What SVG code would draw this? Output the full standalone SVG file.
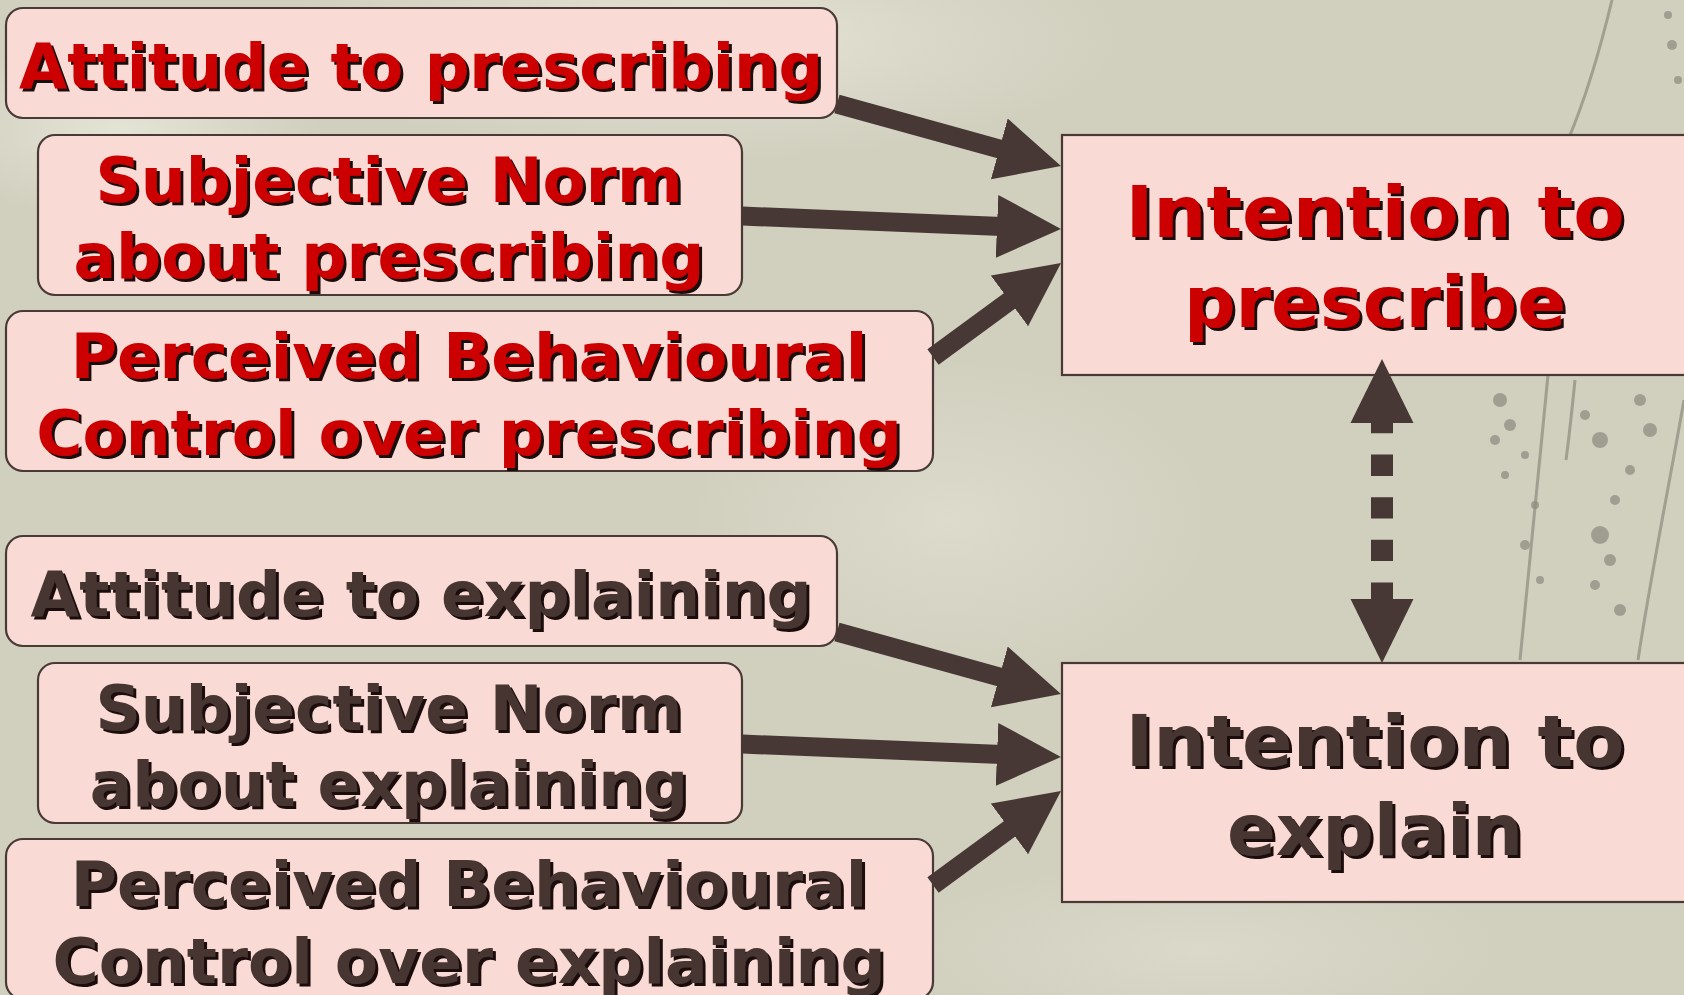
<svg xmlns="http://www.w3.org/2000/svg" width="1684" height="995" viewBox="0 0 1684 995">
<style>
.box{fill:#f9dad4;stroke:#4a3a36;stroke-width:2.2}
.t{font-family:"DejaVu Sans",Verdana,sans-serif;font-weight:bold;text-anchor:middle;filter:url(#sh)}
.s{font-size:63px}
.b{font-size:72px}
.red{fill:#cc0000}
.brn{fill:#463532}
.arr{fill:none;stroke:#473835;stroke-width:19;marker-end:url(#head)}
.dash{fill:none;stroke:#473835;stroke-width:22;stroke-dasharray:21.3 21.3;marker-start:url(#head);marker-end:url(#head)}
.vine{fill:none;stroke:#8c8a7c;stroke-width:3;opacity:.7}
.dot{fill:#8f8d80;opacity:.75}
</style>
<defs>
<filter id="sh" x="-5%" y="-10%" width="110%" height="130%">
<feDropShadow dx="3" dy="3" stdDeviation="0.3" flood-color="#1a1010" flood-opacity="1"/>
</filter>
<marker id="head" viewBox="0 -32 64 64" markerWidth="64" markerHeight="64" refX="11" refY="0" orient="auto-start-reverse" markerUnits="userSpaceOnUse">
<path d="M0,-31.5 L64,0 L0,31.5 Z" fill="#473835"/>
</marker>
<radialGradient id="lt1" cx="0.5" cy="0.5" r="0.5">
<stop offset="0" stop-color="#e6e6d8" stop-opacity="0.9"/>
<stop offset="1" stop-color="#e6e6d8" stop-opacity="0"/>
</radialGradient>
</defs>
<g id="background">
<rect x="0" y="0" width="1684" height="995" fill="#d1cfbe"/>
<ellipse cx="700" cy="40" rx="420" ry="120" fill="url(#lt1)"/>
<ellipse cx="120" cy="130" rx="200" ry="90" fill="url(#lt1)"/>
<ellipse cx="950" cy="520" rx="260" ry="160" fill="url(#lt1)" opacity="0.6"/>
<ellipse cx="1200" cy="950" rx="300" ry="90" fill="url(#lt1)" opacity="0.5"/>
<path class="vine" d="M1612,0 C1600,50 1585,100 1568,140"/>
<path class="vine" d="M1548,375 C1540,460 1530,560 1520,660"/>
<path class="vine" d="M1684,400 C1670,480 1650,580 1638,660"/>
<path class="vine" d="M1575,380 C1572,410 1570,430 1566,460"/>
<circle class="dot" cx="1500" cy="400" r="7"/><circle class="dot" cx="1510" cy="425" r="6"/>
<circle class="dot" cx="1495" cy="440" r="5"/><circle class="dot" cx="1525" cy="455" r="4"/>
<circle class="dot" cx="1505" cy="475" r="4"/><circle class="dot" cx="1535" cy="505" r="4"/>
<circle class="dot" cx="1525" cy="545" r="5"/><circle class="dot" cx="1540" cy="580" r="4"/>
<circle class="dot" cx="1585" cy="415" r="5"/><circle class="dot" cx="1600" cy="440" r="8"/>
<circle class="dot" cx="1640" cy="400" r="6"/><circle class="dot" cx="1650" cy="430" r="7"/>
<circle class="dot" cx="1630" cy="470" r="5"/><circle class="dot" cx="1615" cy="500" r="5"/>
<circle class="dot" cx="1600" cy="535" r="9"/><circle class="dot" cx="1610" cy="560" r="6"/>
<circle class="dot" cx="1595" cy="585" r="5"/><circle class="dot" cx="1620" cy="610" r="6"/>
<circle class="dot" cx="1668" cy="15" r="4"/><circle class="dot" cx="1672" cy="45" r="5"/>
<circle class="dot" cx="1678" cy="80" r="4"/>
</g>
<g id="node-attitude-prescribing">
<rect class="box" x="6" y="8" width="831" height="110" rx="17"/>
<text class="t s red" x="421" y="88" textLength="804" lengthAdjust="spacingAndGlyphs">Attitude to prescribing</text>
</g>
<g id="node-norm-prescribing">
<rect class="box" x="38" y="135" width="704" height="160" rx="17"/>
<text class="t s red" x="389" y="202">Subjective Norm</text>
<text class="t s red" x="389" y="278">about prescribing</text>
</g>
<g id="node-pbc-prescribing">
<rect class="box" x="6" y="311" width="927" height="160" rx="17"/>
<text class="t s red" x="469" y="378">Perceived Behavioural</text>
<text class="t s red" x="469" y="455">Control over prescribing</text>
</g>
<g id="node-intention-prescribe">
<rect class="box" x="1062" y="135" width="640" height="240"/>
<text class="t b red" x="1375" y="237" textLength="499" lengthAdjust="spacingAndGlyphs">Intention to</text>
<text class="t b red" x="1375" y="327">prescribe</text>
</g>
<g id="node-attitude-explaining">
<rect class="box" x="6" y="536" width="831" height="110" rx="17"/>
<text class="t s brn" x="421" y="616">Attitude to explaining</text>
</g>
<g id="node-norm-explaining">
<rect class="box" x="38" y="663" width="704" height="160" rx="17"/>
<text class="t s brn" x="389" y="730">Subjective Norm</text>
<text class="t s brn" x="389" y="806">about explaining</text>
</g>
<g id="node-pbc-explaining">
<rect class="box" x="6" y="839" width="927" height="160" rx="17"/>
<text class="t s brn" x="469" y="906">Perceived Behavioural</text>
<text class="t s brn" x="469" y="983">Control over explaining</text>
</g>
<g id="node-intention-explain">
<rect class="box" x="1062" y="663" width="640" height="239"/>
<text class="t b brn" x="1375" y="766" textLength="499" lengthAdjust="spacingAndGlyphs">Intention to</text>
<text class="t b brn" x="1375" y="855">explain</text>
</g>
<g id="connectors">
<path class="arr" d="M837,104 L1009.9,151.9"/>
<path class="arr" d="M742,216 L1008,226.8"/>
<path class="arr" d="M933,357 L1018.3,294.4"/>
<path class="arr" d="M837,632 L1009.9,679.9"/>
<path class="arr" d="M742,744 L1008,754.8"/>
<path class="arr" d="M933,885 L1018.3,822.4"/>
<path class="dash" d="M1382,412 L1382,610"/>
</g>
</svg>
